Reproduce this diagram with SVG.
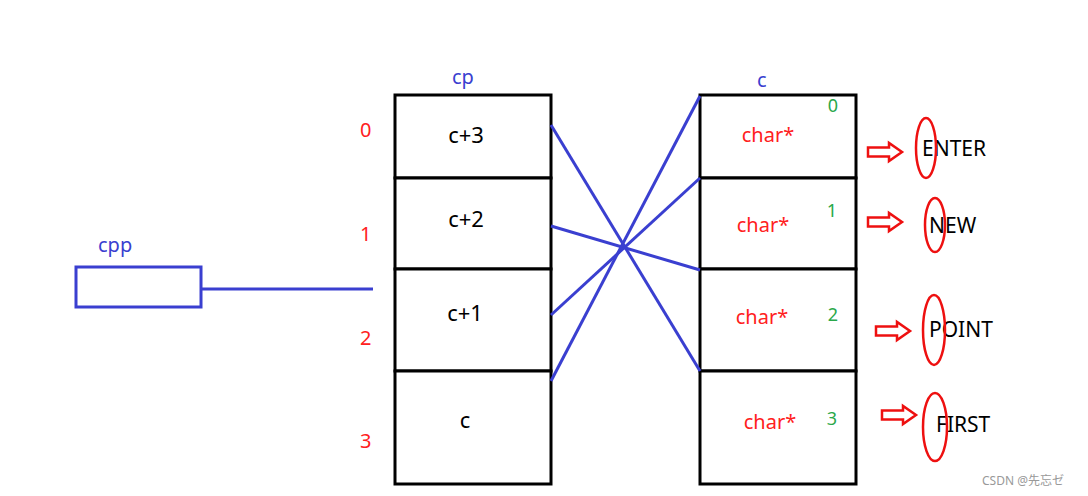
<svg xmlns="http://www.w3.org/2000/svg" xmlns:xlink="http://www.w3.org/1999/xlink" width="1088" height="496" viewBox="0 0 1088 496">
<style>
  .box { fill: #fff; stroke: #000; stroke-width: 3; }
  .blue { fill: #3a3fd0; font-family: "Noto Sans", "Open Sans", sans-serif; font-size: 20px; }
  .idx { fill: #ff2020; font-family: "Noto Sans", sans-serif; font-size: 20px; }
  .cell { fill: #000; font-family: "Noto Sans", sans-serif; font-size: 22px; text-anchor: middle; }
  .chr { fill: #ff2020; font-family: "Noto Sans", sans-serif; font-size: 20px; text-anchor: middle; }
  .grn { fill: #2aa84a; font-family: "Noto Sans", sans-serif; font-size: 18px; text-anchor: middle; }
  .word { fill: #000; font-family: "Noto Sans", sans-serif; font-size: 21px; }
  .ell { fill: none; stroke: #ee1010; stroke-width: 2.5; }
  .arr { fill: #fff; stroke: #ee1010; stroke-width: 2.5; stroke-linejoin: miter; }
  .conn { stroke: #3a3fd0; stroke-width: 3; fill: none; }
  .wm { fill: #999; font-family: "Noto Sans", "Noto Sans CJK SC", sans-serif; font-size: 12px; }
</style>
<defs>
  <path id="harrow" class="arr" d="M0,-4.5 L21,-4.5 L21,-9 L34,0 L21,9 L21,4.5 L0,4.5 Z"/>
</defs>
<rect width="1088" height="496" fill="#fff"/>

<g id="cpp">
  <rect x="76" y="267" width="125" height="40" fill="none" stroke="#3a3fd0" stroke-width="3"/>
  <text class="blue" x="98" y="252">cpp</text>
</g>

<g id="cp">
  <text class="blue" x="452" y="84">cp</text>
  <rect class="box" x="395" y="95" width="156" height="83"/>
  <rect class="box" x="395" y="178" width="156" height="91"/>
  <rect class="box" x="395" y="269" width="156" height="102"/>
  <rect class="box" x="395" y="371" width="156" height="113"/>
  <text class="cell" x="466" y="143">c+3</text>
  <text class="cell" x="466" y="227">c+2</text>
  <text class="cell" x="465" y="321">c+1</text>
  <text class="cell" x="465" y="428">c</text>
</g>

<g id="indices">
  <text class="idx" x="360" y="137">0</text>
  <text class="idx" x="360" y="241">1</text>
  <text class="idx" x="360" y="345">2</text>
  <text class="idx" x="360" y="448">3</text>
</g>

<g id="c">
  <text class="blue" x="757" y="87">c</text>
  <rect class="box" x="700" y="95" width="156" height="83"/>
  <rect class="box" x="700" y="178" width="156" height="91"/>
  <rect class="box" x="700" y="269" width="156" height="102"/>
  <rect class="box" x="700" y="371" width="156" height="113"/>
  <text class="chr" x="768" y="142">char*</text>
  <text class="chr" x="763" y="232">char*</text>
  <text class="chr" x="762" y="324">char*</text>
  <text class="chr" x="770" y="429">char*</text>
  <text class="grn" x="833" y="112">0</text>
  <text class="grn" x="832" y="217">1</text>
  <text class="grn" x="833" y="321">2</text>
  <text class="grn" x="832" y="425">3</text>
</g>

<g id="strings">
  <g id="s-enter">
    <use xlink:href="#harrow" x="868" y="152"/>
    <text class="word" x="922" y="156">ENTER</text>
    <ellipse class="ell" cx="926" cy="148" rx="10" ry="30"/>
  </g>
  <g id="s-new">
    <use xlink:href="#harrow" x="868" y="222"/>
    <text class="word" x="929" y="233">NEW</text>
    <ellipse class="ell" cx="935" cy="225" rx="10" ry="27"/>
  </g>
  <g id="s-point">
    <use xlink:href="#harrow" x="876" y="331"/>
    <text class="word" x="929" y="337">POINT</text>
    <ellipse class="ell" cx="934" cy="330" rx="11" ry="35"/>
  </g>
  <g id="s-first">
    <use xlink:href="#harrow" x="882" y="415"/>
    <text class="word" x="936" y="432">FIRST</text>
    <ellipse class="ell" cx="935" cy="427" rx="12" ry="34"/>
  </g>
</g>

<g id="connectors">
  <line class="conn" x1="201" y1="289" x2="373" y2="289"/>
  <line class="conn" x1="551" y1="125" x2="700" y2="371"/>
  <line class="conn" x1="551" y1="226" x2="700" y2="270"/>
  <line class="conn" x1="551" y1="315" x2="700" y2="178"/>
  <line class="conn" x1="551" y1="381" x2="700" y2="96"/>
</g>

<text class="wm" x="982" y="485">CSDN @先忘ゼ</text>
</svg>
